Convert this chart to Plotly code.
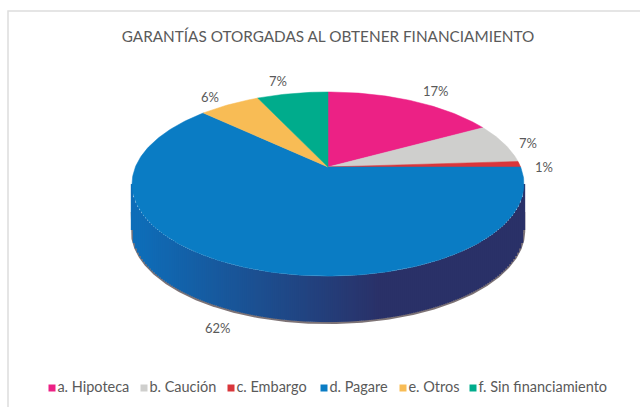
import math
import numpy as np
import plotly.graph_objects as go

title = "GARANTÍAS OTORGADAS AL OBTENER FINANCIAMIENTO"
categories = ["a. Hipoteca", "b. Caución", "c. Embargo", "d. Pagare", "e. Otros", "f. Sin financiamiento"]
values = [17, 7, 1, 62, 6, 7]
colors = ["#EC2185", "#CFCFCD", "#D9363B", "#0A7CC4", "#F8BC55", "#00AC8C"]
value_labels = ["17%", "7%", "1%", "62%", "6%", "7%"]

# layout (pixel-like axes)
W, H = 640, 407
CX, CY, A, B, K, DEPTH = 328, 167, 192.6, 88.9, 0.185, 46
label_xy = [(436, 91), (528, 143), (544, 167), (218, 328), (210, 97), (278, 81)]
legend_x = [52, 144, 231, 324, 403, 473]
legend_y = 388
INK = "#5A5A5A"
FONT = "Lato, 'Open Sans', sans-serif"


def rim(frac, dy=0.0):
    t = 2 * math.pi * frac
    u, v = math.sin(t), -math.cos(t)
    d = 1 - K * v
    return CX + A * u / d, CY + B * v / d + dy


def lerp_hex(c1, c2, t):
    a = [int(c1[i:i + 2], 16) for i in (1, 3, 5)]
    b = [int(c2[i:i + 2], 16) for i in (1, 3, 5)]
    return "rgb(%d,%d,%d)" % tuple(round(p + (q - p) * t) for p, q in zip(a, b))


fig = go.Figure()
total = sum(values)

# front arc of the rim, between the two widest points
delta = math.asin(K) / (2 * math.pi)
arc = [rim(0.25 + delta + (0.5 - 2 * delta) * i / 400) for i in range(401)]
arc_x = np.array([p[0] for p in arc])[::-1]
arc_y = np.array([p[1] for p in arc])[::-1]

# soft dark edge beneath the side wall, rising up the left and right ends
edge_x = np.concatenate(([arc_x[0]], arc_x, [arc_x[-1]]))
edge_y = np.concatenate(([arc_y[0] + 28], arc_y + DEPTH + 0.8, [arc_y[-1] + 28]))
fig.add_trace(go.Scatter(x=edge_x, y=edge_y, mode="lines",
                         line=dict(color="rgba(70,55,60,0.7)", width=2.5),
                         hoverinfo="skip", showlegend=False))

# side wall: vertical runs shaded blue (left) to navy (right)
xs = np.arange(arc_x[0], arc_x[-1], 2.0)
for x in np.append(xs, arc_x[-1]):
    y = float(np.interp(x, arc_x, arc_y))
    t = min(1, max(0, (x - 140) / 240))
    fig.add_trace(go.Scatter(x=[x, x], y=[y, y + DEPTH], mode="lines",
                             line=dict(color=lerp_hex("#0E6DB8", "#2A3168", t), width=2.4),
                             hoverinfo="skip", showlegend=False))

# top face slices
cum = 0
for name, val, col in zip(categories, values, colors):
    n = max(3, int(val * 4))
    f0, f1 = cum / total, (cum + val) / total
    pts = [(CX, CY)] + [rim(f0 + (f1 - f0) * j / n) for j in range(n + 1)] + [(CX, CY)]
    fig.add_trace(go.Scatter(x=[p[0] for p in pts], y=[p[1] for p in pts], mode="lines",
                             fill="toself", fillcolor=col, line=dict(color=col, width=0.5),
                             name=name, hoverinfo="name", showlegend=False))
    cum += val

# value labels
for (x, y), txt in zip(label_xy, value_labels):
    fig.add_annotation(x=x, y=y, text=txt, showarrow=False,
                       font=dict(family=FONT, size=13, color=INK))

# legend row: square marker with real text
for x, name, col in zip(legend_x, categories, colors):
    fig.add_trace(go.Scatter(x=[x], y=[legend_y], mode="markers+text", text=[name],
                             textposition="middle right",
                             textfont=dict(family=FONT, size=14.5, color=INK),
                             marker=dict(symbol="square", size=7, color=col),
                             name=name, hoverinfo="name", showlegend=False))

fig.update_layout(
    width=W, height=H, margin=dict(l=0, r=0, t=0, b=0),
    paper_bgcolor="white", plot_bgcolor="white",
    xaxis=dict(range=[0, W], visible=False, fixedrange=True),
    yaxis=dict(range=[H, 0], visible=False, fixedrange=True),
    title=dict(text=title, x=328 / W, y=1 - 37 / H, xanchor="center", yanchor="middle",
               font=dict(family=FONT, size=15.3, color=INK)),
    shapes=[dict(type="rect", xref="x", yref="y", x0=8, y0=11, x1=660, y1=H + 5,
                 line=dict(color="#DDDDDD", width=1.5), fillcolor="rgba(0,0,0,0)", layer="below")],
)
fig.write_html("out.html", config=dict(displayModeBar=False),
               post_script="document.body.style.margin='0';document.documentElement.style.overflow='hidden';")
